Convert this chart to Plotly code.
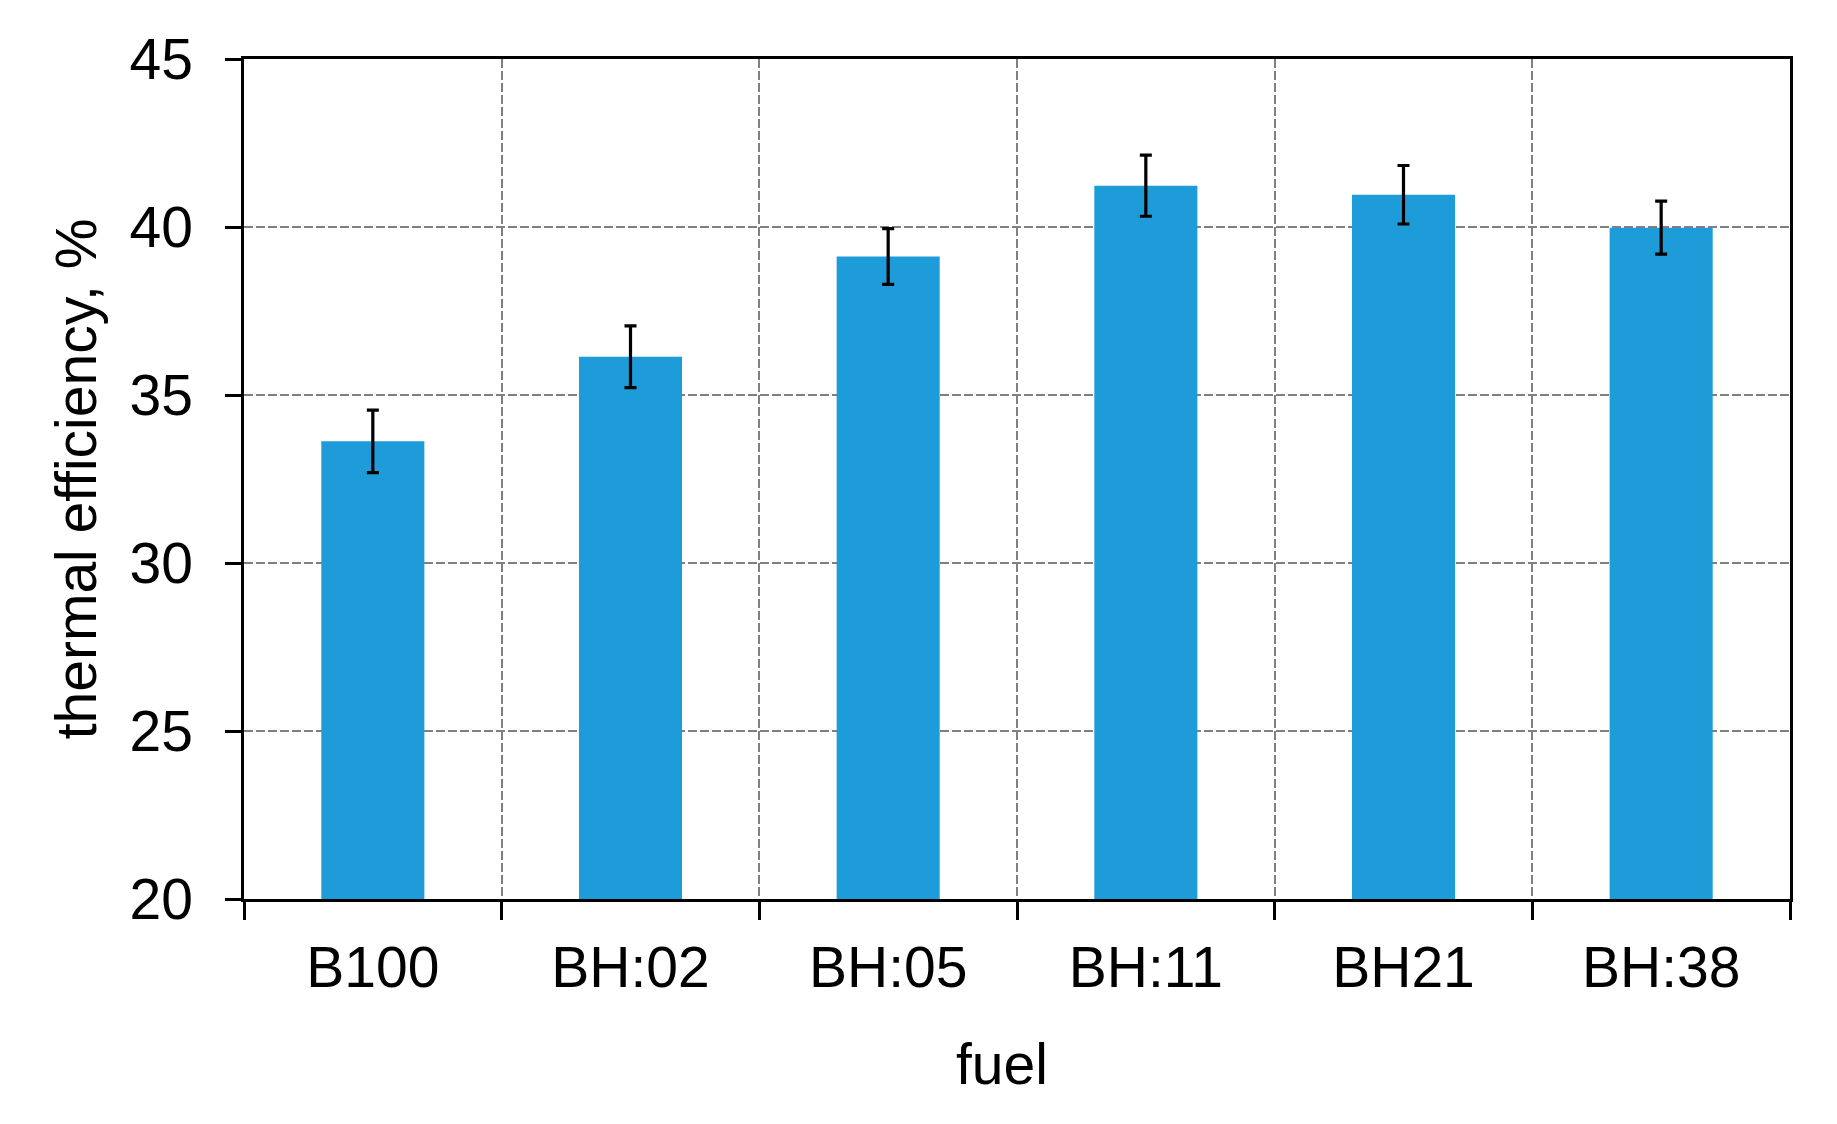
import plotly.graph_objects as go

fuels = ["B100", "BH:02", "BH:05", "BH:11", "BH21", "BH:38"]
efficiency = [33.62, 36.14, 39.12, 41.23, 40.96, 39.98]
error = [0.93, 0.92, 0.83, 0.91, 0.87, 0.79]

FONT = "Liberation Sans, Arial, sans-serif"
GRID = "#808080"
FS = 57

fig = go.Figure()
fig.add_trace(go.Bar(
    x=fuels,
    y=efficiency,
    width=0.4,
    marker=dict(color="#1E9CD9", line=dict(width=0)),
    error_y=dict(type="data", array=error, visible=True, color="black",
                 thickness=3.2, width=6),
    showlegend=False,
))

# page body has a small default margin, so the figure is offset
fig.update_layout(
    width=1821, height=1108,
    margin=dict(l=236, r=39, t=51, b=217, autoexpand=False),
    paper_bgcolor="white", plot_bgcolor="white",
    font=dict(family=FONT, size=FS, color="black"),
    bargap=0.6,
    annotations=[dict(
        text="fuel", xref="paper", yref="paper", x=0.49, y=-0.196,
        xanchor="center", yanchor="middle", showarrow=False,
        font=dict(size=FS, family=FONT, color="black"),
    )],
)

fig.update_xaxes(
    type="category",
    tickson="boundaries",
    ticks="outside", ticklen=18, tickwidth=2.5, tickcolor="black",
    showline=True, linewidth=2.5, linecolor="black", mirror=True,
    showgrid=True, gridcolor=GRID, gridwidth=1.8, griddash="9px,3px",
    tickfont=dict(size=FS, family=FONT),
    ticklabelstandoff=17,
    automargin=False,
)
fig.update_yaxes(
    range=[20, 45], dtick=5, tick0=20,
    ticks="outside", ticklen=16, tickwidth=2.5, tickcolor="black",
    showline=True, linewidth=2.5, linecolor="black", mirror=True,
    showgrid=True, gridcolor=GRID, gridwidth=1.8, griddash="9px,3px",
    zeroline=False,
    tickfont=dict(size=FS, family=FONT),
    ticklabelstandoff=21,
    automargin=False,
    title=dict(text="thermal efficiency, %", font=dict(size=FS, family=FONT), standoff=15),
)

fig.write_html("out.html")
